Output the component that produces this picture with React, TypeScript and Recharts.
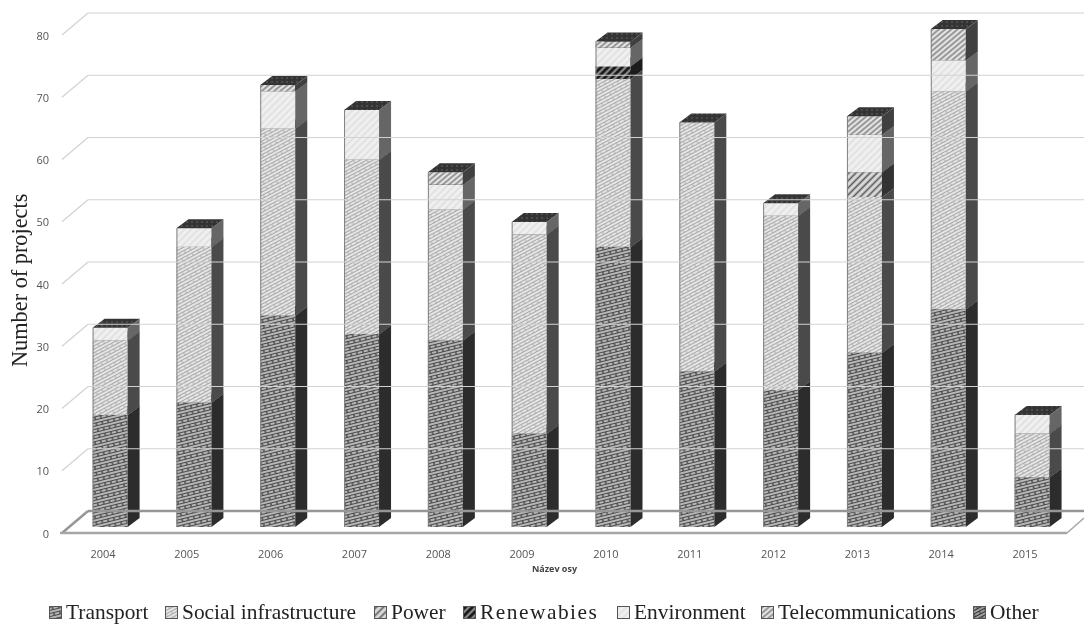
import { BarChart, Bar, XAxis, YAxis, Legend } from "recharts";

const YEARS = ["2004", "2005", "2006", "2007", "2008", "2009", "2010", "2011", "2012", "2013", "2014", "2015"];
const TRANSPORT = [18, 20, 34, 31, 30, 15, 45, 25, 22, 28, 35, 8];
const SOCIAL = [12, 25, 30, 28, 21, 32, 27, 40, 28, 25, 35, 7];
const POWER = [0, 0, 0, 0, 0, 0, 0, 0, 0, 4, 0, 0];
const RENEWABLES = [0, 0, 0, 0, 0, 0, 2, 0, 0, 0, 0, 0];
const ENVIRONMENT = [2, 3, 6, 8, 4, 2, 3, 0, 2, 6, 5, 3];
const TELECOM = [0, 0, 1, 0, 2, 0, 1, 0, 0, 3, 5, 0];
const OTHER = [0, 0, 0, 0, 0, 0, 0, 0, 0, 0, 0, 0];
const Y_TICKS = [0, 10, 20, 30, 40, 50, 60, 70, 80];
const KEYS = ["transport", "social", "power", "renewables", "environment", "telecom", "other"];
const NAMES = ["Transport", "Social infrastructure", "Power", "Renewabies", "Environment", "Telecommunications", "Other"];

const data = YEARS.map((year, i) => ({
  year,
  transport: TRANSPORT[i],
  social: SOCIAL[i],
  power: POWER[i],
  renewables: RENEWABLES[i],
  environment: ENVIRONMENT[i],
  telecom: TELECOM[i],
  other: OTHER[i],
}));

// hatch look of each series, side = colour of the 3d side face
const STYLES: Record<string, any> = {
  transport: { base: "#bdbdbd", line: "#4a4a4a", lw: 1.1, dot: "#000", r: 0.8, angle: -14, period: 3, side: "#2c2c2c" },
  social: { base: "#e8e8e8", line: "#a8a8a8", lw: 1.1, dot: "#707070", r: 0.6, angle: -28, period: 3, side: "#4a4a4a" },
  power: { base: "#dcdcdc", line: "#5c5c5c", lw: 1.7, dot: "#5c5c5c", r: 0, angle: -45, period: 5, side: "#333" },
  renewables: { base: "#8a8a8a", line: "#111", lw: 2.6, dot: "#111", r: 0, angle: -45, period: 5, side: "#1c1c1c" },
  environment: { base: "#f0f0f0", line: "#dedede", lw: 1.6, dot: "#dedede", r: 0, angle: -45, period: 5, side: "#666" },
  telecom: { base: "#e4e4e4", line: "#808080", lw: 1.5, dot: "#808080", r: 0, angle: -40, period: 4, side: "#404040" },
  other: { base: "#aaa", line: "#333", lw: 1.2, dot: "#111", r: 0.7, angle: -28, period: 3, side: "#333" },
};

// where the legend swatches start
const LEGEND_LEFT = [49, 165, 374, 463, 617, 761, 973];

const DX = 12;
const DY = 9;

function makeFace(seriesKey: string, side: string) {
  return function Face(props: any) {
    const { x, y, width, height } = props;
    if (!height || height <= 0) return <g />;
    const r = x + width;
    const b = y + height;
    return (
      <g>
        <rect x={x} y={y} width={width} height={height} fill={`url(#hatch-${seriesKey})`} />
        <line x1={x + 0.5} y1={y} x2={x + 0.5} y2={b} stroke="#808080" strokeWidth={1} />
        <polygon points={`${r},${y} ${r + DX},${y - DY} ${r + DX},${b - DY} ${r},${b}`} fill={side} />
        <line x1={r} y1={y} x2={r + DX} y2={y - DY} stroke="#999" strokeWidth={0.7} />
        <polygon points={`${x},${y} ${x + DX},${y - DY} ${r + DX},${y - DY} ${r},${y}`} fill="url(#hatch-top)" />
      </g>
    );
  };
}

function WallTick(props: any) {
  const { y, payload } = props;
  const isFloor = payload.value === 0;
  const stroke = isFloor ? "#969696" : "#d2d2d2";
  const sw = isFloor ? 2.5 : 1.2;
  return (
    <g>
      <line x1={62} y1={y + 6} x2={88} y2={y - 16} stroke={stroke} strokeWidth={sw} />
      <line x1={88} y1={y - 16} x2={1084} y2={y - 16} stroke={stroke} strokeWidth={sw} />
      {isFloor && <line x1={60} y1={y + 6} x2={1067} y2={y + 6} stroke="#a6a6a6" strokeWidth={2.5} />}
      {isFloor && <line x1={1067} y1={y + 6} x2={1084} y2={y - 9} stroke="#a6a6a6" strokeWidth={1.5} />}
      <text x={49} y={y + 6} textAnchor="end" dominantBaseline="central" fontSize={11} fontFamily="Open Sans" fill="#555">
        {payload.value}
      </text>
    </g>
  );
}

function YearTick(props: any) {
  const { x, y, payload } = props;
  return (
    <text x={x - 7.5} y={y + 23} textAnchor="middle" fontSize={11} fontFamily="Open Sans" fill="#555">
      {payload.value}
    </text>
  );
}

function LegendRow() {
  return (
    <div style={{ position: "relative", height: 30, fontFamily: "Liberation Serif", fontSize: 21.4, color: "#222", whiteSpace: "nowrap" }}>
      {KEYS.map((k, i) => (
        <div key={k} style={{ position: "absolute", left: LEGEND_LEFT[i], top: 6, display: "flex", alignItems: "center", height: 24 }}>
          <svg width={13} height={13} style={{ marginRight: 4 }}>
            <rect x={0.5} y={0.5} width={12} height={12} fill={`url(#hatch-${k})`} stroke="#555" />
          </svg>
          <span style={{ letterSpacing: k === "renewables" ? 1.5 : 0 }}>{NAMES[i]}</span>
        </div>
      ))}
    </div>
  );
}

export default function App() {
  return (
    <div style={{ position: "absolute", left: 0, top: 0, width: 1084, height: 624, background: "#fff", filter: "blur(0.35px)", overflow: "hidden" }}>
      <BarChart
        width={1084}
        height={624}
        data={data}
        barSize={35}
        margin={{ top: 29, right: 9.6, bottom: 0, left: 0 }}
      >
        <defs>
          {KEYS.map((k) => {
            const s = STYLES[k];
            return (
              <pattern key={k} id={`hatch-${k}`} width={6} height={s.period * 2} patternUnits="userSpaceOnUse" patternTransform={`rotate(${s.angle})`}>
                <rect width={6} height={s.period * 2} fill={s.base} />
                <line x1={0} y1={s.period * 0.5} x2={6} y2={s.period * 0.5} stroke={s.line} strokeWidth={s.lw} />
                <line x1={0} y1={s.period * 1.5} x2={6} y2={s.period * 1.5} stroke={s.line} strokeWidth={s.lw} />
                {s.r > 0 && <circle cx={3} cy={s.period} r={s.r} fill={s.dot} />}
              </pattern>
            );
          })}
          <pattern id="hatch-top" width={5} height={4} patternUnits="userSpaceOnUse">
            <rect width={5} height={4} fill="#343434" />
            <circle cx={2} cy={2} r={0.8} fill="#6a6a6a" />
          </pattern>
        </defs>
        <XAxis
          dataKey="year"
          height={67}
          axisLine={false}
          tickLine={false}
          interval={0}
          tick={YearTick}
          label={{ value: "Název osy", position: "insideTop", dx: -17, dy: 34, fontSize: 9, fontWeight: 700, fontFamily: "Open Sans", fill: "#444" }}
        />
        <YAxis
          width={68.6}
          domain={[0, 80]}
          ticks={Y_TICKS}
          axisLine={false}
          tickLine={false}
          tick={WallTick}
          label={{ value: "Number of projects", angle: -90, position: "insideLeft", dx: 14, dy: 89, fontSize: 22.3, fontFamily: "Liberation Serif", fill: "#222" }}
        />
        <Legend verticalAlign="bottom" height={30} content={LegendRow} />
        {KEYS.map((k, i) => (
          <Bar
            key={k}
            dataKey={k}
            name={NAMES[i]}
            stackId="a"
            shape={makeFace(k, STYLES[k].side)}
            isAnimationActive={false}
          />
        ))}
      </BarChart>
    </div>
  );
}
